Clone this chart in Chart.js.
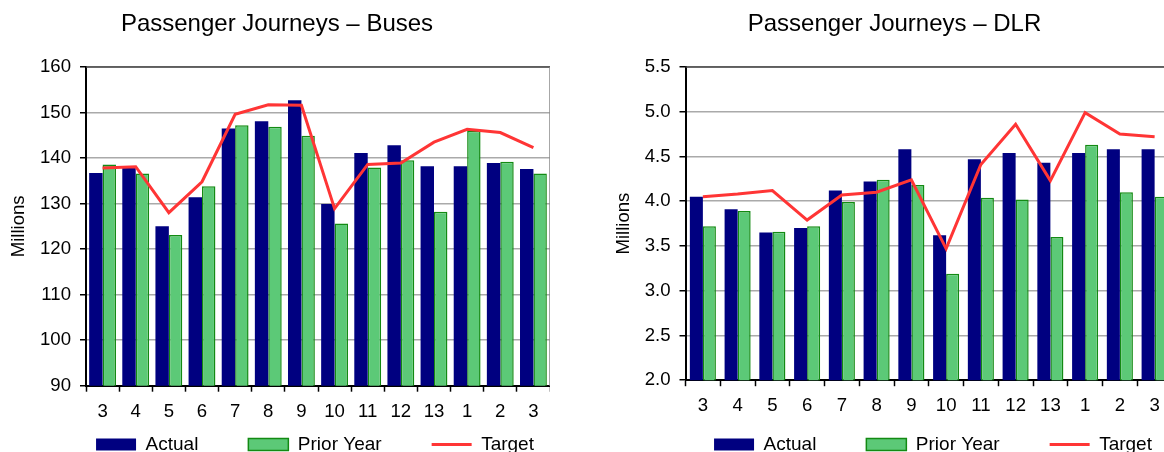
<!DOCTYPE html>
<html><head><meta charset="utf-8">
<script src="https://cdn.jsdelivr.net/npm/chart.js@4"></script>
<style>
html,body{margin:0;padding:0;background:#fff;overflow:hidden;width:1164px;height:452px;position:relative;}
canvas{position:absolute;top:0;}
</style></head><body>
<canvas id="buses" width="550" height="452" style="left:0"></canvas>
<canvas id="dlr" width="572" height="452" style="left:600px"></canvas>
<script>
const categories = ['3','4','5','6','7','8','9','10','11','12','13','1','2','3'];
const seriesNames = ['Actual', 'Prior Year', 'Target'];

const busesActual = [136.7, 137.8, 125.0, 131.4, 146.5, 148.1, 152.7, 129.9, 141.1, 142.8, 138.2, 138.2, 138.9, 137.6];
const busesPrior  = [138.6, 136.6, 123.1, 133.8, 147.2, 146.9, 144.9, 125.6, 137.9, 139.5, 128.2, 146.0, 139.2, 136.6];
const busesTarget = [137.8, 138.1, 128.0, 134.8, 149.6, 151.7, 151.6, 128.9, 138.6, 138.9, 143.5, 146.3, 145.6, 142.3];

const dlrActual = [4.05, 3.91, 3.65, 3.70, 4.12, 4.22, 4.58, 3.62, 4.47, 4.54, 4.43, 4.54, 4.58, 4.58];
const dlrPrior  = [3.72, 3.89, 3.66, 3.72, 3.99, 4.24, 4.18, 3.19, 4.04, 4.02, 3.60, 4.63, 4.10, 4.05];
const dlrTarget = [4.05, 4.08, 4.12, 3.79, 4.07, 4.10, 4.24, 3.47, 4.41, 4.86, 4.23, 4.99, 4.75, 4.72];

const busesTicks = {min: 90, max: 160, step: 10, decimals: 0};
const dlrTicks = {min: 2.0, max: 5.5, step: 0.5, decimals: 1};

Chart.defaults.font.family = "'Liberation Sans', Arial, sans-serif";
Chart.defaults.color = '#000';

const NAVY = '#000080', GREEN = '#5cc977', GREEN_EDGE = '#138a13', RED = '#ff3535';

const excelLayout = {
  id: 'excelLayout',
  afterLayout(chart, args, o) {
    const t = chart.titleBlock, l = chart.legend;
    if (t) { t.left = o.titleX - 300; t.right = o.titleX + 300; }
    if (l) { l.left = o.legendX - 300; l.right = o.legendX + 300; l.top = o.legendTop; l.bottom = o.legendTop + 200; }
  },
  afterDraw(chart) {
    const {ctx, chartArea: a} = chart;
    ctx.save();
    ctx.lineWidth = 1.5;
    ctx.strokeStyle = '#444';
    ctx.beginPath(); ctx.moveTo(a.left, a.top); ctx.lineTo(a.right, a.top); ctx.stroke();
    ctx.strokeStyle = '#8a8a8a';
    ctx.beginPath(); ctx.moveTo(a.right, a.top); ctx.lineTo(a.right, a.bottom); ctx.stroke();
    ctx.restore();
  }
};

function makeChart(id, c) {
  return new Chart(document.getElementById(id), {
    type: 'bar',
    data: {
      labels: categories,
      datasets: [
        {label: seriesNames[0], data: c.actual, backgroundColor: NAVY, borderWidth: 0, order: 1,
         categoryPercentage: c.catPct, barPercentage: 1},
        {label: seriesNames[1], data: c.prior, backgroundColor: GREEN, borderColor: GREEN_EDGE, borderWidth: 1.5, order: 1,
         categoryPercentage: c.catPct, barPercentage: 1},
        {type: 'line', label: seriesNames[2], data: c.target, borderColor: RED, backgroundColor: RED,
         borderWidth: 3, pointRadius: 0, tension: 0, fill: false, order: 0}
      ]
    },
    options: {
      responsive: false, animation: false, devicePixelRatio: 1,
      layout: {padding: 0},
      events: [],
      plugins: {
        title: {display: true, text: c.title, color: '#000', font: {size: 24, weight: 'normal'}, padding: {top: 10, bottom: 28.2}},
        legend: {
          position: 'bottom', maxHeight: 1,
          labels: {
            usePointStyle: true, pointStyleWidth: 40, boxHeight: 12, padding: 50,
            color: '#000', font: {size: 19},
            sort: (a, b) => a.datasetIndex - b.datasetIndex,
            generateLabels(chart) {
              const items = Chart.defaults.plugins.legend.labels.generateLabels(chart);
              items.forEach(it => {
                if (it.datasetIndex < 2) { it.pointStyle = 'rect'; }
                else { it.pointStyle = 'line'; it.lineWidth = 3; it.strokeStyle = RED; }
              });
              return items;
            }
          }
        },
        tooltip: {enabled: false},
        excelLayout: {titleX: c.titleX, legendX: c.legendX, legendTop: 385}
      },
      scales: {
        x: {
          offset: true,
          grid: {offset: true, drawOnChartArea: false, drawTicks: true, tickLength: 6, tickColor: '#000', tickWidth: 1.5},
          border: {color: '#000', width: 2},
          ticks: {font: {size: 18.6}, color: '#000', padding: 9, autoSkip: false, maxRotation: 0, minRotation: 0},
          afterFit(s) { s.height = c.xh; }
        },
        y: {
          min: c.ticks.min, max: c.ticks.max,
          ticks: {stepSize: c.ticks.step, font: {size: 18.6}, color: '#000', padding: 9,
                  callback: v => Number(v).toFixed(c.ticks.decimals)},
          grid: {color: '#aaaaaa', lineWidth: 1.5, tickLength: 6, tickColor: '#000', tickWidth: 1.5},
          border: {color: '#000', width: 2},
          title: {display: true, text: 'Millions', color: '#000', font: {size: 18.6}, padding: {top: c.ytp, bottom: 0}},
          afterFit(s) { s.width = c.yw; }
        }
      }
    },
    plugins: [excelLayout]
  });
}

makeChart('buses', {
  title: 'Passenger Journeys – Buses', actual: busesActual, prior: busesPrior, target: busesTarget,
  ticks: busesTicks, catPct: 0.81, xh: 65.3, yw: 86, ytp: 7.8, titleX: 277, legendX: 315
});
makeChart('dlr', {
  title: 'Passenger Journeys – DLR', actual: dlrActual, prior: dlrPrior, target: dlrTarget,
  ticks: dlrTicks, catPct: 0.75, xh: 70.8, yw: 85.5, ytp: 12.8, titleX: 294.5, legendX: 333
});
</script>
</body></html>
